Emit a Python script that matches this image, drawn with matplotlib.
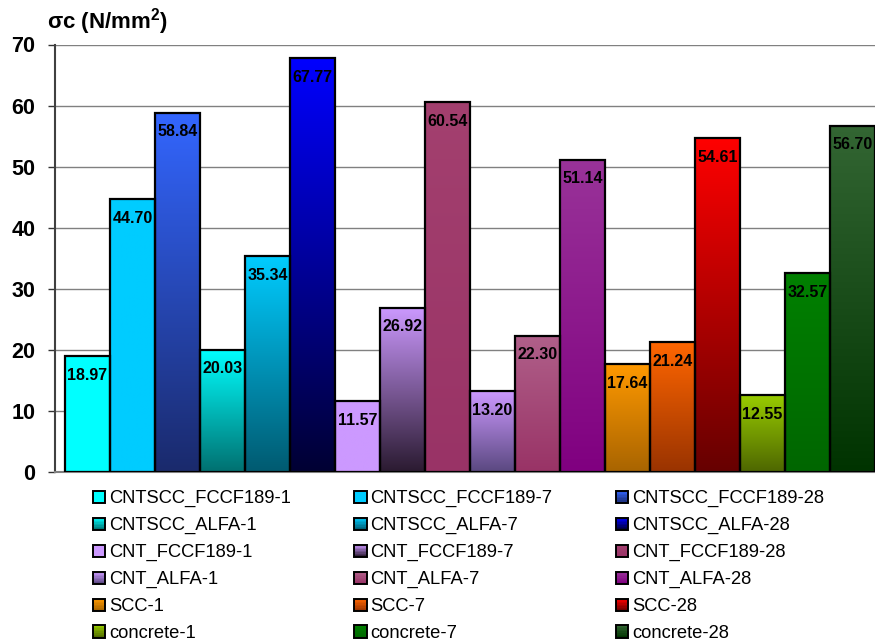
"""Compressive strength bar chart with gradient-filled bars."""
import matplotlib
matplotlib.use("Agg")
import matplotlib.pyplot as plt
import numpy as np
from matplotlib.colors import LinearSegmentedColormap, to_rgb
from matplotlib.patches import Rectangle
from matplotlib.legend_handler import HandlerBase

mixes = [
    "CNTSCC_FCCF189-1", "CNTSCC_FCCF189-7", "CNTSCC_FCCF189-28",
    "CNTSCC_ALFA-1", "CNTSCC_ALFA-7", "CNTSCC_ALFA-28",
    "CNT_FCCF189-1", "CNT_FCCF189-7", "CNT_FCCF189-28",
    "CNT_ALFA-1", "CNT_ALFA-7", "CNT_ALFA-28",
    "SCC-1", "SCC-7", "SCC-28",
    "concrete-1", "concrete-7", "concrete-28",
]
strength = [18.97, 44.70, 58.84, 20.03, 35.34, 67.77,
            11.57, 26.92, 60.54, 13.20, 22.30, 51.14,
            17.64, 21.24, 54.61, 12.55, 32.57, 56.70]
top_colors = ["#00FFFF", "#00CCFF", "#3366FF", "#00FFFF", "#00CCFF", "#0000FF",
              "#CC99FF", "#CC99FF", "#A3406F", "#CC99FF", "#B0608A", "#993399",
              "#FF9900", "#FF6600", "#FF0000", "#99CC00", "#008000", "#336633"]
bottom_colors = ["#00FFFF", "#00CCFF", "#1A2A6C", "#007070", "#005A70", "#000033",
                 "#CC99FF", "#2A1A30", "#993366", "#5A4880", "#993366", "#800080",
                 "#A86400", "#993300", "#660000", "#4D6600", "#006600", "#003300"]


class Swatch:
    def __init__(self, top, bottom):
        self.top = top
        self.bottom = bottom


class GradientHandler(HandlerBase):
    def create_artists(self, legend, orig, xd, yd, w, h, fontsize, trans):
        s = min(w, h)
        x0 = xd + (w - s) / 2
        y0 = yd + (h - s) / 2
        c_top, c_bot = np.array(to_rgb(orig.top)), np.array(to_rgb(orig.bottom))
        n = 8
        arts = []
        for k in range(n):
            f = (k + 0.5) / n
            col = c_bot * (1 - f) + c_top * f
            arts.append(Rectangle((x0, y0 + s * k / n), s, s / n, fc=col, ec="none",
                                  transform=trans))
        arts.append(Rectangle((x0, y0), s, s, fill=False, ec="black", lw=1.4,
                              transform=trans))
        return arts


plt.rcParams["font.family"] = ["Liberation Sans", "DejaVu Sans"]
plt.rcParams["mathtext.fontset"] = "custom"
plt.rcParams["mathtext.rm"] = "Liberation Sans"
plt.rcParams["mathtext.bf"] = "Liberation Sans:bold"

W, H = 875, 644
fig = plt.figure(figsize=(W / 100, H / 100), dpi=100)
ax = fig.add_axes([55 / W, 1 - 472 / H, 820 / W, (472 - 44.5) / H])

grad = np.linspace(0, 1, 256).reshape(-1, 1)
for i, (v, ct, cb) in enumerate(zip(strength, top_colors, bottom_colors)):
    cmap = LinearSegmentedColormap.from_list(f"bar{i}", [cb, ct])
    ax.imshow(grad, cmap=cmap, origin="lower", extent=(i, i + 1, 0, v),
              aspect="auto", interpolation="bilinear", zorder=2)
    ax.add_patch(Rectangle((i, 0), 1, v, fill=False, ec="black", lw=1.6, zorder=3))
    ax.annotate(f"{v:.2f}", (i + 0.5, v), xytext=(0, -19), textcoords="offset pixels",
                ha="center", va="center", fontsize=11.5, fontweight="bold", zorder=4)

ax.set_xlim(-0.22, 18.0)
ax.set_ylim(0, 70)
ax.set_xticks([])
ax.set_yticks(range(0, 71, 10))
ax.tick_params(axis="y", length=5, width=1, pad=9, labelsize=15.5, colors="#333333")
for lbl in ax.get_yticklabels():
    lbl.set_fontweight("bold")
    lbl.set_color("black")
ax.yaxis.grid(True, color="#808080", lw=1)
ax.set_axisbelow(True)
ax.spines["top"].set_visible(False)
ax.spines["right"].set_visible(False)
ax.spines["left"].set_color("#404040")
ax.spines["left"].set_linewidth(1.5)
ax.spines["bottom"].set_color("#808080")
ax.spines["bottom"].set_linewidth(1.5)

fig.text(47 / W, 1 - 22 / H, r"σc (N/mm$^{\mathbf{2}}$)", fontsize=16,
         fontweight="bold", va="center", ha="left")

# legend reads row by row; matplotlib fills columns first, so reorder
handles = [Swatch(t, b) for t, b in zip(top_colors, bottom_colors)]
idx = [row * 3 + col for col in range(3) for row in range(6)]
fig.legend([handles[k] for k in idx], [mixes[k] for k in idx],
           handler_map={Swatch: GradientHandler()}, ncol=3, frameon=False,
           loc="upper left", bbox_to_anchor=(92.5 / W, 1 - 490 / H),
           fontsize=13.25, handlelength=0.67, handleheight=0.67, handletextpad=0.22,
           columnspacing=3.45, labelspacing=0.53, borderpad=0, borderaxespad=0)

fig.savefig("out.png", dpi=100)
plt.close(fig)
